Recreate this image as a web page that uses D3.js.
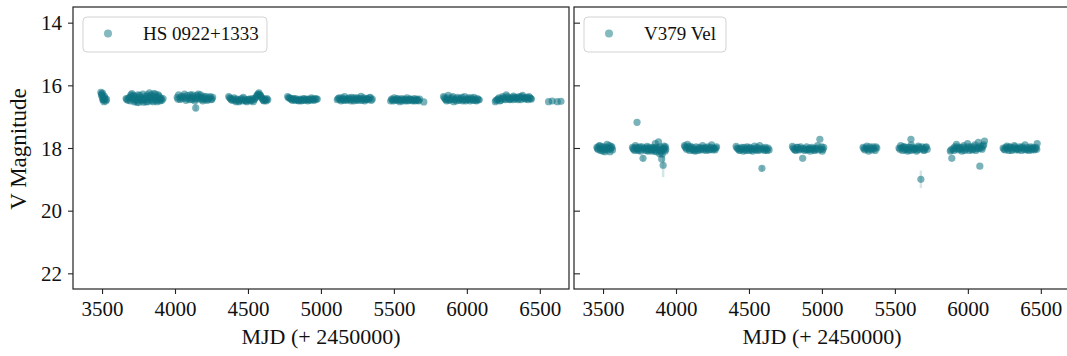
<!DOCTYPE html>
<html>
<head>
<meta charset="utf-8">
<script src="https://cdn.jsdelivr.net/npm/d3@7"></script>
<style>
  body { margin: 0; background: #fff; }
  svg { display: block; font-family: "Liberation Serif", "DejaVu Serif", serif; }
  .tick line { stroke: #222; stroke-width: 1.1; }
  .domain { display: none; }
</style>
</head>
<body>
<svg id="chart" width="1067" height="356"></svg>
<script>
// HS 0922+1333 light curve, [MJD - 2450000, V mag]
const hsPoints = [
  [3492,16.22],[3496,16.30],[3500,16.36],[3503,16.25],[3507,16.42],[3511,16.47],[3515,16.34],[3520,16.40],[3526,16.50],[3531,16.45],
  [3498,16.28],[3505,16.46],[3513,16.52],[3518,16.44],
  [3665,16.42],[3678,16.48],[3690,16.38],[3698,16.30],[3705,16.26],[3712,16.44],[3720,16.52],[3728,16.36],[3735,16.48],[3742,16.40],
  [3750,16.55],[3758,16.32],[3765,16.46],[3772,16.50],[3780,16.28],[3788,16.42],[3795,16.36],[3802,16.52],[3810,16.30],[3818,16.46],
  [3825,16.24],[3832,16.40],[3840,16.50],[3848,16.34],[3855,16.26],[3862,16.44],[3870,16.38],[3878,16.52],[3885,16.30],[3893,16.46],
  [3900,16.40],[3910,16.48],[3918,16.42],
  [3670,16.45],[3684,16.40],[3694,16.50],[3702,16.36],[3716,16.32],[3724,16.46],[3738,16.54],[3746,16.30],[3754,16.44],[3762,16.38],
  [3776,16.44],[3784,16.54],[3792,16.46],[3806,16.40],[3814,16.52],[3822,16.36],[3836,16.30],[3844,16.46],[3852,16.52],[3866,16.28],
  [3874,16.48],[3882,16.40],[3890,16.34],[3898,16.50],[3905,16.44],
  [4015,16.38],[4025,16.30],[4035,16.45],[4045,16.35],[4055,16.42],[4065,16.28],[4075,16.48],[4085,16.33],[4095,16.40],[4105,16.30],
  [4115,16.45],[4125,16.36],[4135,16.50],[4142,16.72],[4150,16.32],[4160,16.28],[4170,16.44],[4180,16.38],[4190,16.50],[4200,16.35],
  [4210,16.42],[4222,16.48],[4235,16.40],[4248,16.46],[4258,16.38],
  [4020,16.44],[4040,16.40],[4060,16.36],[4080,16.42],[4100,16.46],[4110,16.38],[4120,16.30],[4130,16.42],[4145,16.44],[4155,16.40],
  [4165,16.36],[4175,16.30],[4185,16.44],[4195,16.40],[4205,16.46],[4215,16.36],[4228,16.44],[4242,16.36],[4253,16.44],
  [4368,16.36],[4380,16.42],[4392,16.48],[4405,16.40],[4418,16.52],[4430,16.46],[4442,16.50],[4455,16.42],[4468,16.38],[4480,16.48],
  [4492,16.52],[4505,16.45],[4518,16.50],[4530,16.42],[4542,16.46],[4555,16.38],[4565,16.30],[4575,16.24],[4585,16.32],[4595,16.40],
  [4605,16.48],[4615,16.44],[4625,16.50],[4636,16.46],
  [4375,16.40],[4386,16.46],[4398,16.44],[4412,16.48],[4424,16.44],[4436,16.52],[4448,16.46],[4462,16.50],[4474,16.44],[4486,16.50],
  [4498,16.46],[4512,16.44],[4524,16.48],[4536,16.52],[4548,16.42],[4560,16.34],[4570,16.28],[4580,16.30],[4590,16.36],[4600,16.44],
  [4610,16.50],[4620,16.46],[4630,16.42],
  [4772,16.36],[4785,16.40],[4798,16.45],[4810,16.42],[4822,16.48],[4835,16.46],[4848,16.50],[4860,16.44],[4872,16.48],[4885,16.42],
  [4898,16.46],[4910,16.50],[4922,16.44],[4935,16.40],[4948,16.46],[4960,16.42],[4975,16.44],
  [4778,16.40],[4792,16.42],[4804,16.48],[4816,16.44],[4828,16.42],[4842,16.48],[4854,16.46],[4866,16.50],[4878,16.44],[4892,16.48],
  [4904,16.44],[4916,16.46],[4928,16.48],[4942,16.44],[4954,16.48],[4968,16.44],
  [5112,16.46],[5125,16.40],[5138,16.50],[5150,16.44],[5162,16.36],[5175,16.48],[5188,16.42],[5200,16.46],[5212,16.38],[5225,16.50],
  [5238,16.44],[5250,16.40],[5262,16.48],[5275,16.35],[5288,16.44],[5300,16.50],[5312,16.42],[5325,16.46],[5338,16.38],[5352,16.44],
  [5118,16.42],[5132,16.46],[5144,16.40],[5156,16.48],[5168,16.44],[5182,16.46],[5194,16.40],[5206,16.50],[5218,16.44],[5232,16.40],
  [5244,16.48],[5256,16.44],[5268,16.42],[5282,16.48],[5294,16.40],[5306,16.46],[5318,16.44],[5332,16.40],[5345,16.48],
  [5478,16.50],[5490,16.46],[5502,16.40],[5515,16.48],[5528,16.44],[5540,16.52],[5552,16.42],[5565,16.46],[5578,16.50],[5590,16.40],
  [5602,16.48],[5615,16.44],[5628,16.50],[5640,16.42],[5652,16.46],[5665,16.48],[5676,16.44],[5705,16.53],
  [5484,16.44],[5496,16.50],[5508,16.46],[5522,16.42],[5534,16.48],[5546,16.46],[5558,16.50],[5572,16.44],[5584,16.46],[5596,16.50],
  [5608,16.44],[5622,16.46],[5634,16.48],[5646,16.50],[5658,16.44],[5670,16.50],
  [5840,16.36],[5852,16.44],[5862,16.50],[5872,16.32],[5885,16.46],[5898,16.40],[5910,16.52],[5922,16.44],[5935,16.38],[5948,16.48],
  [5960,16.42],[5972,16.50],[5985,16.36],[5998,16.46],[6010,16.40],[6022,16.50],[6035,16.44],[6048,16.38],[6060,16.48],[6072,16.42],
  [6085,16.46],
  [5846,16.40],[5858,16.46],[5868,16.40],[5878,16.48],[5892,16.44],[5904,16.36],[5916,16.46],[5928,16.50],[5942,16.42],[5954,16.46],
  [5966,16.38],[5978,16.46],[5992,16.50],[6004,16.44],[6016,16.46],[6028,16.40],[6042,16.48],[6054,16.44],[6066,16.50],[6078,16.46],
  [6195,16.52],[6208,16.46],[6220,16.40],[6232,16.48],[6245,16.36],[6258,16.44],[6270,16.30],[6282,16.40],[6295,16.46],[6308,16.38],
  [6320,16.34],[6332,16.44],[6345,16.40],[6358,16.36],[6370,16.46],[6382,16.32],[6395,16.42],[6408,16.38],[6420,16.46],[6432,16.40],
  [6442,16.44],
  [6200,16.48],[6214,16.44],[6226,16.50],[6238,16.42],[6252,16.40],[6264,16.46],[6276,16.36],[6288,16.44],[6302,16.42],[6314,16.46],
  [6326,16.38],[6338,16.40],[6352,16.46],[6364,16.40],[6376,16.36],[6388,16.40],[6402,16.44],[6414,16.40],[6426,16.36],[6438,16.42],
  [6560,16.52],[6585,16.50],[6620,16.52],[6645,16.51]
];
// visible error bars: [MJD, mag, err]
const hsErrors = [[4142,16.72,0.12]];

// V379 Vel light curve
const velPoints = [
  [3458,17.98],[3468,18.05],[3478,17.92],[3488,18.02],[3498,18.10],[3508,17.96],[3518,18.04],[3528,17.88],[3538,18.00],[3548,18.12],
  [3556,17.95],[3565,18.06],
  [3462,18.02],[3472,17.94],[3483,18.08],[3493,17.96],[3503,18.04],[3513,18.12],[3523,17.98],[3533,18.06],[3543,17.92],[3552,18.02],
  [3561,17.98],
  [3733,17.18],
  [3702,17.98],[3712,18.05],[3722,17.92],[3732,18.02],[3742,18.08],[3752,17.96],[3762,18.04],[3774,18.33],[3782,18.00],[3792,18.08],
  [3802,17.95],[3812,18.06],[3822,18.02],[3832,18.10],[3842,17.98],[3850,18.05],[3858,17.86],[3866,18.12],[3874,18.00],[3880,17.80],
  [3888,18.18],[3895,18.08],[3902,18.35],[3908,18.02],[3912,18.55],[3918,17.94],[3925,18.10],[3930,18.04],
  [3706,18.02],[3717,18.08],[3727,17.98],[3737,18.04],[3747,18.00],[3757,18.10],[3767,17.96],[3787,18.04],[3797,18.00],[3807,18.10],
  [3817,17.98],[3827,18.04],[3837,18.06],[3846,18.00],[3854,18.10],[3862,17.98],[3870,18.06],[3884,18.04],[3892,17.96],[3898,18.12],
  [3905,18.20],[3915,18.06],[3921,18.00],[3928,17.96],
  [4058,17.92],[4068,18.00],[4078,17.88],[4088,18.02],[4098,17.95],[4110,18.05],[4120,18.08],[4132,18.10],[4145,18.04],[4158,17.98],
  [4170,18.06],[4182,17.92],[4195,18.02],[4208,18.08],[4220,17.96],[4232,18.04],[4244,17.90],[4256,18.00],[4268,18.06],[4278,17.96],
  [4062,17.96],[4073,18.04],[4083,17.96],[4093,18.08],[4104,18.00],[4115,17.98],[4126,18.04],[4138,17.96],[4151,18.08],[4164,18.02],
  [4176,18.00],[4188,18.06],[4201,17.98],[4214,18.02],[4226,18.06],[4238,17.98],[4250,18.06],[4262,18.02],[4273,18.00],
  [4412,17.95],[4425,18.02],[4438,18.08],[4450,17.98],[4462,18.10],[4475,18.04],[4488,17.96],[4500,18.08],[4512,18.02],[4525,18.10],
  [4538,17.94],[4550,18.06],[4562,18.08],[4574,17.92],[4589,18.65],[4600,18.04],[4612,17.98],[4625,18.08],[4638,18.06],
  [4418,18.00],[4431,18.06],[4444,18.02],[4456,18.04],[4468,17.98],[4481,18.08],[4494,18.02],[4506,17.98],[4518,18.06],[4531,18.02],
  [4544,18.04],[4556,17.98],[4568,18.02],[4580,18.06],[4594,18.00],[4606,18.08],[4618,18.04],[4631,18.00],
  [4798,17.95],[4810,18.04],[4822,18.08],[4835,17.98],[4848,18.06],[4860,18.02],[4868,18.33],[4882,18.08],[4895,17.96],[4908,18.04],
  [4920,18.10],[4932,17.98],[4945,18.06],[4958,18.02],[4970,17.92],[4986,17.72],[4992,18.04],[5002,18.10],[5012,17.98],
  [4804,18.00],[4816,18.06],[4828,17.98],[4841,18.04],[4854,17.96],[4875,18.02],[4888,18.04],[4901,18.06],[4914,18.00],[4926,18.04],
  [4939,18.02],[4951,18.08],[4964,18.00],[4977,18.06],[4997,17.96],[5007,18.04],
  [5282,17.98],[5295,18.06],[5308,17.94],[5320,18.10],[5335,18.02],[5350,17.96],[5365,18.08],[5376,18.00],
  [5288,18.02],[5302,18.00],[5314,18.04],[5328,17.96],[5342,18.06],[5358,18.02],[5370,17.96],
  [5528,18.00],[5540,17.92],[5552,18.08],[5564,17.96],[5576,18.04],[5588,18.10],[5600,17.98],[5610,17.72],[5612,17.90],[5624,18.06],
  [5636,18.02],[5648,18.10],[5660,17.94],[5672,18.04],[5678,19.00],[5686,17.96],[5698,18.08],[5710,17.98],[5722,18.04],
  [5534,18.04],[5546,18.00],[5558,17.96],[5570,18.06],[5582,17.98],[5594,18.04],[5606,18.08],[5618,17.98],[5630,18.04],[5642,18.00],
  [5654,18.06],[5666,17.98],[5692,18.02],[5704,18.06],[5716,17.96],
  [5880,18.10],[5890,18.33],[5898,18.02],[5910,17.96],[5922,17.88],[5935,18.06],[5948,17.98],[5960,18.10],[5972,17.92],[5985,18.04],
  [5998,17.86],[6010,18.08],[6022,17.96],[6035,18.04],[6048,17.90],[6060,18.02],[6072,17.82],[6082,18.58],[6092,18.00],[6104,17.94],
  [6114,17.78],
  [5885,18.06],[5904,18.08],[5916,18.02],[5928,17.96],[5941,18.02],[5954,18.04],[5966,17.98],[5978,18.08],[5991,18.00],[6004,17.96],
  [6016,18.02],[6028,18.06],[6041,17.96],[6054,18.08],[6066,17.98],[6077,18.02],[6087,17.94],[6098,18.04],[6109,17.90],
  [6242,18.00],[6255,18.06],[6268,17.94],[6280,18.08],[6292,17.98],[6305,18.04],[6318,17.92],[6330,18.06],[6342,18.02],[6355,17.96],
  [6368,18.08],[6380,18.00],[6392,17.90],[6405,18.04],[6418,18.08],[6430,17.96],[6442,18.02],[6455,18.06],[6468,17.98],[6475,17.86],
  [6248,18.04],[6261,17.98],[6274,18.02],[6286,17.96],[6299,18.08],[6312,18.00],[6324,17.96],[6336,18.02],[6348,18.06],[6361,18.00],
  [6374,17.96],[6386,18.04],[6398,18.06],[6411,17.98],[6424,18.02],[6436,18.06],[6448,17.98],[6461,18.02],[6472,18.04]
];
const velErrors = [[3912,18.55,0.38],[5678,19.00,0.28],[3774,18.33,0.1],[4589,18.65,0.08]];

const xTicks = [3500, 4000, 4500, 5000, 5500, 6000, 6500];
const yTicks = [14, 16, 18, 20, 22];
const xLabel = "MJD (+ 2450000)";
const yLabel = "V Magnitude";

const color = "#0c7382";
const fontFam = '"Liberation Serif", "DejaVu Serif", serif';
const svg = d3.select("#chart");

const plotTop = 7, plotBottom = 289;
const panels = [
  { name: "HS 0922+1333", pts: hsPoints, errs: hsErrors, left: 73, right: 569, showY: true, legendW: 184 },
  { name: "V379 Vel", pts: velPoints, errs: velErrors, left: 574, right: 1070, showY: false, legendW: 142 }
];

const y = d3.scaleLinear().domain([13.5, 22.5]).range([plotTop, plotBottom]);

panels.forEach((p, i) => {
  const x = d3.scaleLinear().domain([3301, 6700]).range([p.left, p.right]);
  const g = svg.append("g");

  const clipId = "clip" + i;
  svg.append("clipPath").attr("id", clipId)
    .append("rect").attr("x", p.left).attr("y", plotTop)
    .attr("width", p.right - p.left).attr("height", plotBottom - plotTop);

  const plot = g.append("g").attr("clip-path", `url(#${clipId})`);

  plot.selectAll("line.err").data(p.errs).join("line")
    .attr("class", "err")
    .attr("x1", d => x(d[0])).attr("x2", d => x(d[0]))
    .attr("y1", d => y(d[1] - d[2])).attr("y2", d => y(d[1] + d[2]))
    .attr("stroke", color).attr("stroke-opacity", 0.18).attr("stroke-width", 2.5);

  plot.selectAll("circle").data(p.pts).join("circle")
    .attr("cx", d => x(d[0])).attr("cy", d => y(d[1]))
    .attr("r", 3.6)
    .attr("fill", color).attr("fill-opacity", 0.55);

  // x axis
  g.append("g")
    .attr("transform", `translate(0,${plotBottom})`)
    .call(d3.axisBottom(x).tickValues(xTicks).tickSize(5).tickPadding(6).tickFormat(d3.format("d")))
    .attr("font-family", fontFam).attr("font-size", 21)
    .call(a => a.selectAll("text").attr("fill", "#111").attr("dy", "0.78em"));

  // y axis
  if (p.showY) {
    g.append("g")
      .attr("transform", `translate(${p.left},0)`)
      .call(d3.axisLeft(y).tickValues(yTicks).tickSize(5).tickPadding(6))
      .attr("font-family", fontFam).attr("font-size", 21)
      .call(a => a.selectAll("text").attr("fill", "#111").attr("dy", "0.34em"));
  } else {
    g.append("g")
      .attr("transform", `translate(${p.left},0)`)
      .call(d3.axisRight(y).tickValues(yTicks).tickSize(6).tickFormat(""));
  }

  // frame
  g.append("rect")
    .attr("x", p.left).attr("y", plotTop)
    .attr("width", p.right - p.left).attr("height", plotBottom - plotTop)
    .attr("fill", "none").attr("stroke", "#222").attr("stroke-width", 1.2);

  // x label
  g.append("text")
    .attr("x", p.left + 248).attr("y", 344)
    .attr("text-anchor", "middle").attr("font-size", 22).attr("fill", "#111")
    .text(xLabel);

  // legend
  const lg = g.append("g").attr("transform", `translate(${p.left + 10},17)`);
  lg.append("rect").attr("width", p.legendW).attr("height", 35).attr("rx", 4)
    .attr("fill", "#fff").attr("fill-opacity", 0.8)
    .attr("stroke", "#d3d3d3").attr("stroke-width", 1);
  lg.append("circle").attr("cx", 25).attr("cy", 16.5).attr("r", 4)
    .attr("fill", color).attr("fill-opacity", 0.5);
  lg.append("text").attr("x", 60).attr("y", 23).attr("font-size", 19).attr("fill", "#111")
    .text(p.name);
});

svg.append("text")
  .attr("transform", "translate(26,149) rotate(-90)")
  .attr("text-anchor", "middle").attr("font-size", 23).attr("fill", "#111")
  .text(yLabel);
</script>
</body>
</html>
